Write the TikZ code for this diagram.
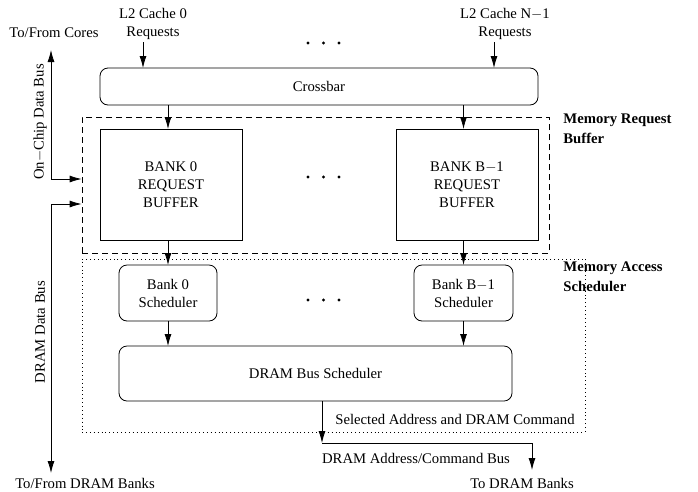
\documentclass[tikz,border=0pt]{standalone}
\usepackage{fontspec}
\setmainfont{Liberation Serif}
\usetikzlibrary{arrows.meta,positioning}

\begin{document}
\begin{tikzpicture}[x=1pt,y=-1pt,font=\fontsize{14.7}{18}\selectfont,>={Latex[length=12pt,width=7pt]},line width=0.8pt,
  box/.style={draw,align=center,inner sep=0pt,outer sep=0pt},
  rbox/.style={box,rounded corners=8pt},
  lbl/.style={align=center,inner sep=2pt}]
\useasboundingbox (0,0) rectangle (698,491);
% outer groups
\node[draw,dashed,dash pattern=on 6pt off 4pt,minimum width=467pt,minimum height=136pt,inner sep=0pt] (membuf) at (315.5,185) {};
\node[draw,dash pattern=on 0.9pt off 3pt,minimum width=503pt,minimum height=173pt,inner sep=0pt] (access) at (333.5,345.5) {};
\node[font=\fontsize{14.7}{20}\selectfont\bfseries,align=left,anchor=north west,inner sep=0pt] (membuflbl) at (563,113) {Memory Request\\Buffer};
\node[font=\fontsize{14.7}{20}\selectfont\bfseries,align=left,anchor=north west,inner sep=0pt] (accesslbl) at (563,261) {Memory Access\\Scheduler};
% blocks
\node[rbox,minimum width=438pt,minimum height=37pt] (crossbar) at (319,86.5) {Crossbar};
\node[box,minimum width=142pt,minimum height=111pt] (buf0) at (171,184.5) {BANK 0\\REQUEST\\BUFFER};
\node[box,minimum width=142pt,minimum height=111pt] (bufB) at (467,184.5) {BANK B$-$1\\REQUEST\\BUFFER};
\node[rbox,minimum width=98pt,minimum height=56pt] (sched0) at (168,293) {Bank 0\\Scheduler};
\node[rbox,minimum width=99pt,minimum height=56pt] (schedB) at (463.5,293) {Bank B$-$1\\Scheduler};
\node[rbox,minimum width=393pt,minimum height=55pt] (busched) at (315.5,373.5) {DRAM Bus Scheduler};
% requests
\node[lbl] (l2a) at (153,24) {L2 Cache 0\\Requests};
\node[lbl] (l2b) at (505,24) {L2 Cache N$-$1\\Requests};
\draw[->] ([xshift=-10pt]l2a.south) -- ([xshift=-10pt]l2a.south |- crossbar.north);
\draw[->] ([xshift=-11pt]l2b.south) -- ([xshift=-11pt]l2b.south |- crossbar.north);
\foreach \n in {sched0,schedB}{
  \draw[->] (crossbar.south -| \n.north) -- (buf0.north -| \n.north);
}
\draw[->] (buf0.south -| sched0.north) -- (sched0.north);
\draw[->] (bufB.south -| schedB.north) -- (schedB.north);
\draw[->] (sched0.south) -- (busched.north -| sched0.south);
\draw[->] (schedB.south) -- (busched.north -| schedB.south);
% dots
\foreach \y in {43,177,300}{
  \foreach \x in {308,323.5,339}{\fill (\x,\y) circle (1.6pt);}
}
% data buses
\node[lbl] (cores) at (54,33) {To/From Cores};
\node[lbl] (drambanks) at (85,483) {To/From DRAM Banks};
\coordinate (coretip) at (51,50);
\coordinate (dramtip) at (51,473);
\draw[<->] (coretip) |- (membuf.west |- 0,179);
\draw[<->] (membuf.west |- 0,204) -| (dramtip);
\node[lbl,rotate=90] (chipbus) at (40,122) {On$-$Chip Data Bus};
\node[lbl,rotate=90] (drambus) at (40,332) {DRAM Data Bus};
% command bus
\coordinate (selout) at (322,443);
\coordinate (cmdtip) at (532,470);
\draw[->] (busched.south -| selout) -- (selout);
\draw[->] (selout) -| (cmdtip);
\node[lbl] (sellbl) at (455,419) {Selected Address and DRAM Command};
\node[lbl] (cmdlbl) at (416,458) {DRAM Address/Command Bus};
\node[lbl] (tobanks) at (522,483) {To DRAM Banks};
\end{tikzpicture}
\end{document}
